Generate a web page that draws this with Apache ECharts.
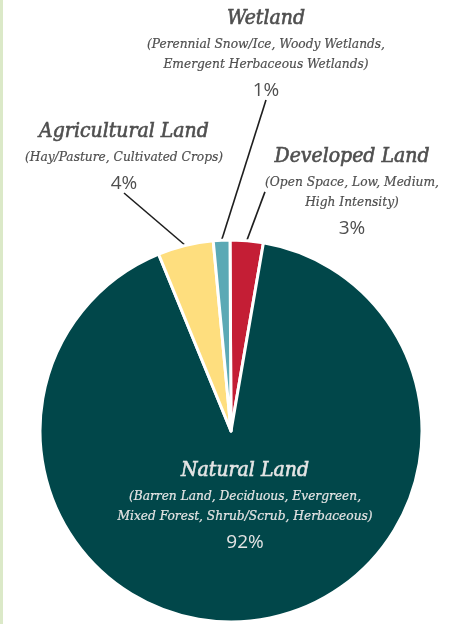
<!DOCTYPE html>
<html>
<head>
<meta charset="utf-8">
<script src="https://cdn.jsdelivr.net/npm/echarts@6/dist/echarts.min.js"></script>
<style>
html,body{margin:0;padding:0;background:#fff;}
#strip{position:absolute;left:0;top:0;width:3px;height:624px;background:#dbe9c8;}
#chart{width:465px;height:624px;}
</style>
</head>
<body>
<div id="strip"></div>
<div id="chart"></div>
<script>
const categories = ['Developed Land', 'Natural Land', 'Agricultural Land', 'Wetland'];
const details = [
  'Open Space, Low, Medium,\nHigh Intensity',
  'Barren Land, Deciduous, Evergreen,\nMixed Forest, Shrub/Scrub, Herbaceous',
  'Hay/Pasture, Cultivated Crops',
  'Perennial Snow/Ice, Woody Wetlands,\nEmergent Herbaceous Wetlands'
];
const values = [2.8, 91.1, 4.7, 1.4];
const shownPercents = ['3%', '92%', '4%', '1%'];
const colors = ['#C41E35', '#01474A', '#FEDE7E', '#5BA9B5'];

const labelSpots = [
  {x: 352, y: 193},
  {x: 245, y: 507},
  {x: 124, y: 158},
  {x: 266, y: 55}
];

const chart = echarts.init(document.getElementById('chart'), null, {renderer: 'canvas'});

function richFor(light) {
  const c = light ? '#e4e4e4' : '#4f4f4f';
  return {
    t: {fontFamily: '"DejaVu Serif Condensed","DejaVu Serif",serif', fontStyle: 'italic', fontSize: 21, lineHeight: 31, color: c, textBorderColor: c, textBorderWidth: 0.6, align: 'center'},
    s: {fontFamily: '"DejaVu Serif Condensed","DejaVu Serif",serif', fontStyle: 'italic', fontSize: 13.6, lineHeight: 20, color: c, textBorderColor: c, textBorderWidth: 0.2, align: 'center'},
    p: {fontFamily: '"Open Sans",Lato,sans-serif', fontSize: 19, lineHeight: 33, color: c, align: 'center'}
  };
}

const data = categories.map((name, i) => {
  const sub = details[i].split('\n').map((l, k, arr) => {
    let txt = l;
    if (k === 0) txt = '(' + txt;
    if (k === arr.length - 1) txt = txt + ')';
    return '{s|' + txt + '}';
  }).join('\n');
  const isNat = i === 1;
  return {
    name: name,
    value: values[i],
    itemStyle: {color: colors[i]},
    label: {
      show: true,
      position: isNat ? 'inside' : 'outside',
      formatter: '{t|' + name + '}\n' + sub + '\n{p|' + shownPercents[i] + '}',
      rich: richFor(isNat),
      align: 'center'
    },
    labelLine: {show: !isNat, length: 20, length2: 0, lineStyle: {color: '#1e1e1e', width: 1.6}}
  };
});

chart.setOption({
  animation: false,
  series: [{
    type: 'pie',
    center: [231, 431],
    radius: [0, 191],
    startAngle: 90.3,
    clockwise: true,
    avoidLabelOverlap: false,
    itemStyle: {borderColor: '#ffffff', borderWidth: 3},
    emphasis: {disabled: true},
    data: data,
    labelLayout: function (params) {
      const s = labelSpots[params.dataIndex];
      return {x: s.x, y: s.y, align: 'center', verticalAlign: 'middle'};
    }
  }]
});
</script>
</body>
</html>
